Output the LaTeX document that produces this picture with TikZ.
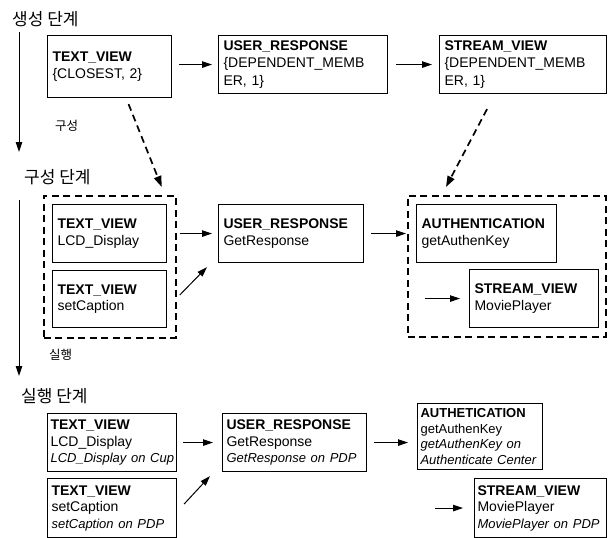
\documentclass[tikz,border=0pt]{standalone}
\usepackage{fontspec}
\setmainfont{Liberation Sans}
\newfontfamily\kor{Noto Sans CJK KR}
\usetikzlibrary{arrows.meta,calc}

% one unbreakable italic line of the execution boxes
\newcommand{\sub}[1]{\mbox{\fontsize{13}{16.5}\selectfont\itshape #1}}

\tikzset{
  bx/.style n args={3}{draw, line width=1.1pt, anchor=north west,
    inner xsep=3pt, inner ysep=0pt, align=left,
    minimum width=#1, text width=#2, minimum height=#3,
    font=\fontsize{14}{16.5}\selectfont,
    execute at begin node={\hyphenpenalty=10000\exhyphenpenalty=10000\hbadness=10000\hfuzz=20pt}},
  wide/.style={inner xsep=5pt},
  grp/.style 2 args={draw, line width=1.7pt, dash pattern=on 7pt off 4.5pt,
    anchor=north west, inner sep=0pt, minimum width=#1, minimum height=#2},
  stage/.style={anchor=west, inner sep=0pt, font=\kor\fontsize{17}{17}\selectfont},
  phase/.style={anchor=west, inner sep=0pt, font=\kor\fontsize{12.5}{12.5}\selectfont},
  arr/.style={-{Triangle[length=10pt,width=6.5pt]}, line width=1pt},
  darr/.style={-{Triangle[length=11pt,width=7.5pt]}, line width=1.7pt,
    dash pattern=on 7pt off 4.5pt},
}

\begin{document}
\begin{tikzpicture}[x=1pt,y=-1pt]
\useasboundingbox (0,0) rectangle (608,538);

% stage titles and the time line on the left
\node[stage] (s1) at (12,19) {생성 단계};
\node[stage] (s2) at (24,177) {구성 단계};
\node[stage] (s3) at (21,396) {실행 단계};
\node[phase] (p1) at (55,126) {구성};
\node[phase] (p2) at (49,355) {실행};
\coordinate (t1a) at (19,32);
\coordinate (t1b) at (19,152);
\coordinate (t2a) at (19,200);
\coordinate (t2b) at (19,376);
\draw[arr] (t1a) -- (t1b);
\draw[arr] (t2a) -- (t2b);

% creation stage
\node[bx={124pt}{114pt}{62pt}, wide] (g1) at (47,35)
  {\textbf{TEXT\_VIEW}\\\{CLOSEST, 2\}};
\node[bx={169pt}{159pt}{58pt}, wide, font=\fontsize{14}{17.5}\selectfont] (g2) at (218,35)
  {\textbf{USER\_RESPONSE}\\\{DEPENDENT\_MEMB\\ER, 1\}};
\node[bx={167pt}{157pt}{58pt}, wide, font=\fontsize{14}{17.5}\selectfont] (g3) at (439,35)
  {\textbf{STREAM\_VIEW}\\\{DEPENDENT\_MEMB\\ER, 1\}};
\draw[arr, shorten <=7pt, shorten >=6pt] (g1.east |- g2.west) -- (g2.west);
\draw[arr, shorten <=8pt, shorten >=7pt] (g2.east) -- (g3.west);

% composition stage
\node[grp={132pt}{142pt}] (gl) at (43,195) {};
\node[grp={198pt}{141pt}] (gr) at (407,195) {};
\node[bx={114pt}{104pt}{58pt}, wide] (c1) at (52,204)
  {\textbf{TEXT\_VIEW}\\LCD\_Display};
\node[bx={114pt}{104pt}{57pt}, wide] (c2) at (52,270)
  {\textbf{TEXT\_VIEW}\\setCaption};
\node[bx={145pt}{135pt}{58pt}, wide] (c3) at (218,204)
  {\textbf{USER\_RESPONSE}\\GetResponse};
\node[bx={140pt}{130pt}{58pt}, wide] (c4) at (416,204)
  {\textbf{AUTHENTICATION}\\getAuthenKey};
\node[bx={129pt}{119pt}{58pt}, wide] (c5) at (469,269)
  {\textbf{STREAM\_VIEW}\\MoviePlayer};

\draw[darr] ([xshift=19pt,yshift=-6pt]g1.south) -- ([xshift=-15pt,yshift=8pt]gl.north east);
\draw[darr] ([xshift=-36pt,yshift=-15pt]g3.south) -- ([xshift=39pt,yshift=8pt]gr.north west);

\draw[arr, shorten <=3pt, shorten >=6pt] (gl.east |- c1.east) -- (c3.west |- c1.east);
\draw[arr] ($(gl.east |- c2.east)+(3,-4)$) -- ($(c3.south west)+(-11,4)$);
\draw[arr, shorten <=7pt, shorten >=1pt] (c3.east) -- (gr.west |- c3.east);
\draw[arr, shorten <=18pt, shorten >=9pt] (gr.west |- c5.west) -- (c5.west);

% execution stage
\node[bx={129pt}{123pt}{58pt}] (r1) at (47,413)
  {\textbf{TEXT\_VIEW}\\LCD\_Display\\\sub{LCD\_Display on Cup}};
\node[bx={129pt}{121pt}{59pt}, inner xsep=4pt] (r2) at (47,478)
  {\textbf{TEXT\_VIEW}\\setCaption\\\sub{setCaption on PDP}};
\node[bx={144pt}{136pt}{58pt}, inner xsep=4pt] (r3) at (222,413)
  {\textbf{USER\_RESPONSE}\\GetResponse\\\sub{GetResponse on PDP}};
\node[bx={125pt}{119pt}{66pt}, font=\fontsize{13}{15.5}\selectfont] (r4) at (417,403)
  {\textbf{AUTHETICATION}\\getAuthenKey\\\sub{getAuthenKey on}\\\sub{Authenticate Center}};
\node[bx={132pt}{126pt}{59pt}] (r5) at (474,478)
  {\textbf{STREAM\_VIEW}\\MoviePlayer\\\sub{MoviePlayer on PDP}};

\draw[arr, shorten <=6pt, shorten >=9pt] (r1.east) -- (r3.west);
\draw[arr] ($(r2.east)+(7,-4)$) -- ($(r3.south west)+(-12,4)$);
\draw[arr, shorten <=7pt, shorten >=9pt] (r3.east) -- (r4.west |- r3.east);
\draw[arr, shorten <=18pt, shorten >=11pt] (r4.west |- r5.west) -- (r5.west);
\end{tikzpicture}
\end{document}
